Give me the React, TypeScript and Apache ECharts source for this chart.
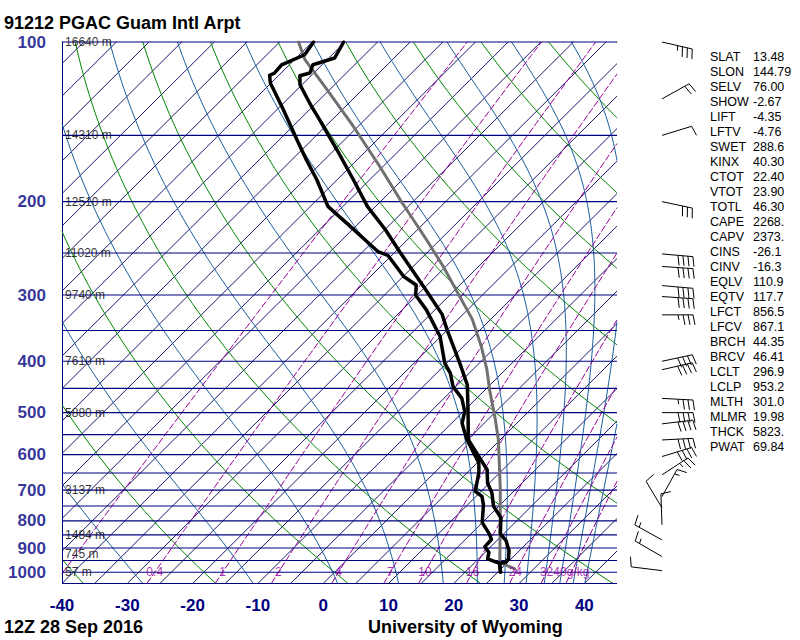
import React, { useEffect, useRef } from 'react';
import * as echarts from 'echarts';

// ---------------- DATA ----------------
const TEMP_P = [100, 107.2, 110.4, 114.4, 115.8, 120.4, 132.3, 140.2, 159.5, 181.9, 204.4, 226.0, 249.2, 291.2, 326.3, 348.7, 403.2, 443.1, 495.9, 562.3, 595.6, 640.6, 678.5, 708.5, 750.8, 789.2, 846.3, 871.6, 910.3, 943.6, 957.8, 962.0, 999.0];
const TEMP_T = [-80.2, -79.1, -81.4, -80.6, -81.7, -80.3, -75.2, -71.9, -64.7, -57.5, -51.2, -44.9, -39.2, -29.9, -23.2, -20.1, -13.0, -8.5, -4.4, 0.1, 3.4, 7.6, 9.7, 11.9, 14.2, 17.1, 19.5, 21.4, 23.4, 24.6, 24.7, 23.9, 25.4];
const DEW_P = [100, 105.7, 110.4, 114.4, 115.6, 119.5, 134.2, 152.9, 166.7, 181.9, 204.2, 208.6, 222.7, 241.2, 248.4, 252.5, 276.9, 287.2, 300.2, 320.0, 359.3, 403.2, 421.2, 446.6, 469.5, 497.4, 523.3, 535.0, 562.3, 622.3, 649.1, 703.6, 719.1, 745.3, 806.2, 846.3, 867.4, 894.6, 917.4, 943.6, 962.0, 999.0];
const DEW_T = [-84.8, -84.2, -86.2, -86.0, -86.4, -85.1, -79.0, -72.3, -67.8, -63.1, -57.3, -55.7, -50.8, -44.9, -42.7, -40.6, -34.9, -31.7, -30.2, -26.3, -20.1, -15.3, -12.9, -10.4, -7.3, -4.8, -3.4, -2.4, -0.1, 5.3, 6.8, 9.1, 10.9, 12.4, 15.0, 17.8, 19.0, 19.1, 20.6, 21.4, 23.9, 25.4];
const PARCEL_P = [100, 108.0, 123.0, 144.3, 171.7, 201.0, 236.3, 265.0, 297.9, 333.5, 375.6, 415.2, 453.0, 516.0, 562.3, 698.8, 957.8, 985.8];
const PARCEL_T = [-87.1, -83.4, -75.4, -65.7, -55.5, -46.5, -37.0, -30.4, -24.0, -17.8, -12.2, -7.8, -4.3, 1.2, 4.7, 12.7, 23.8, 27.1];

const PRESSURE_TICKS = [100, 200, 300, 400, 500, 600, 700, 800, 900, 1000];
const HEIGHT_P = [100, 150, 200, 250, 300, 400, 500, 700, 850, 925, 1000];
const HEIGHT_LABELS = ['16640 m', '14310 m', '12510 m', '11020 m', '9740 m', '7610 m', '5880 m', '3137 m', '1484 m', '745 m', '57 m'];
const MIX_RATIOS = [0.1, 0.4, 1, 2, 4, 7, 10, 16, 24, 32, 40];
const MIX_LABEL_VALUES = [0.4, 1, 2, 4, 7, 10, 16, 24, 32, 40];
const MIX_LABEL_TEXT = ['0.4', '1', '2', '4', '7', '10', '16', '24', '32', '40g/kg'];

const STAT_NAMES = ['SLAT', 'SLON', 'SELV', 'SHOW', 'LIFT', 'LFTV', 'SWET', 'KINX', 'CTOT', 'VTOT', 'TOTL', 'CAPE', 'CAPV', 'CINS', 'CINV', 'EQLV', 'EQTV', 'LFCT', 'LFCV', 'BRCH', 'BRCV', 'LCLT', 'LCLP', 'MLTH', 'MLMR', 'THCK', 'PWAT'];
const STAT_VALUES = ['13.48', '144.79', '76.00', '-2.67', '-4.35', '-4.76', '288.6', '40.30', '22.40', '23.90', '46.30', '2268.', '2373.', '-26.1', '-16.3', '110.9', '117.7', '856.5', '867.1', '44.35', '46.41', '296.9', '953.2', '301.0', '19.98', '5823.', '69.84'];

const WIND_P = [100, 128, 150, 200, 251, 265, 288, 302, 327, 400, 415, 470, 500, 525, 563, 605, 655, 720, 756, 814, 869, 934, 993];
const WIND_DIR = [103, 61, 73, 102, 95, 94, 95, 94, 90, 78, 77, 93, 90, 83, 87, 73, 57, 29, 329, 358, 299, 300, 277];
const WIND_KT = [35, 20, 10, 30, 40, 40, 40, 40, 35, 40, 40, 35, 40, 40, 40, 40, 25, 15, 10, 10, 15, 15, 10];

const TITLE = '91212 PGAC Guam Intl Arpt';
const FOOT_LEFT = '12Z 28 Sep 2016';
const FOOT_RIGHT = 'University of Wyoming';

// ---------------- diagram geometry / reference lines ----------------
const K = 81.6;
const PBOT = 1050;
const PTOP = 100;
const XMIN = -40;
const XMAX = 45;
const ISOBARS = [100, 150, 200, 250, 300, 350, 400, 450, 500, 550, 600, 650, 700, 750, 800, 850, 900, 950, 1000, 1050];
const ISOTHERMS: number[] = [];
for (let t = -125; t <= 45; t += 5) ISOTHERMS.push(t);
const DRY_THETA: number[] = [];
for (let t = -40; t <= 180; t += 20) DRY_THETA.push(t);
const MOIST_THETAE: number[] = [];
for (let t = -30; t <= 190; t += 20) MOIST_THETAE.push(t);

const skew = (p: number) => K * Math.log10(PBOT / p);
const toX = (T: number, p: number) => T + skew(p);
const logPs = (n: number) => Array.from({ length: n + 1 }, (_, i) => PBOT * Math.pow(PTOP / PBOT, i / n));
const es = (tc: number) => 6.112 * Math.exp((17.67 * tc) / (tc + 243.5));
const tFromE = (e: number) => { const l = Math.log(e / 6.112); return (243.5 * l) / (17.67 - l); };
const mixT = (w: number, p: number) => tFromE((w * p) / (622 + w));
function thetaE(tc: number, p: number) {
  const e = es(tc);
  if (e > 0.5 * p) return 1e9;
  const r = (622 * e) / (p - e);
  const tk = tc + 273.15;
  return tk * Math.pow(1000 / p, 0.2854 * (1 - 0.00028 * r)) * Math.exp((3.376 / tk - 0.00254) * r * (1 + 0.00081 * r));
}
function moistT(te: number, p: number) {
  let lo = -160, hi = 60;
  for (let i = 0; i < 50; i++) {
    const mid = (lo + hi) / 2;
    if (thetaE(mid, p) > te) hi = mid; else lo = mid;
  }
  return (lo + hi) / 2;
}
function clipX(pts: number[][]): number[][][] {
  const out: number[][][] = [];
  let cur: number[][] | null = null;
  const lerp = (a: number[], b: number[], t: number) => [a[0] + (b[0] - a[0]) * t, Math.exp(Math.log(a[1]) + (Math.log(b[1]) - Math.log(a[1])) * t)];
  for (let i = 1; i < pts.length; i++) {
    const a = pts[i - 1], b = pts[i];
    let t0 = 0, t1 = 1;
    const dx = b[0] - a[0];
    if (Math.abs(dx) < 1e-12) {
      if (a[0] < XMIN || a[0] > XMAX) { t0 = 1; t1 = 0; }
    } else {
      let ta = (XMIN - a[0]) / dx, tb = (XMAX - a[0]) / dx;
      if (ta > tb) { const s = ta; ta = tb; tb = s; }
      t0 = Math.max(0, ta); t1 = Math.min(1, tb);
    }
    if (t0 > t1) { if (cur) { out.push(cur); cur = null; } continue; }
    const s = lerp(a, b, t0), e = lerp(a, b, t1);
    if (!cur || t0 > 0) { if (cur) out.push(cur); cur = [s]; }
    cur.push(e);
    if (t1 < 1) { out.push(cur); cur = null; }
  }
  if (cur) out.push(cur);
  return out.filter((l) => l.length > 1);
}

const isobarLines = ISOBARS.map((p) => [[XMIN, p], [XMAX, p]]);
const isothermLines = ISOTHERMS.flatMap((T) => clipX([[toX(T, PBOT), PBOT], [toX(T, PTOP), PTOP]]));
const dryLines = DRY_THETA.flatMap((th) => clipX(logPs(60).map((p) => [toX((th + 273.15) * Math.pow(p / 1000, 0.2857) - 273.15, p), p])));
const moistLines = MOIST_THETAE.flatMap((te) => clipX(logPs(80).map((p) => [toX(moistT(te + 273.15, p), p), p])));
const mixLines = MIX_RATIOS.flatMap((w) => clipX(logPs(40).map((p) => [toX(mixT(w, p), p), p])));

function bgSeries(lines: number[][][], color: string, width: number, z: number, dash?: number[]) {
  return {
    type: 'custom',
    coordinateSystem: 'cartesian2d',
    silent: true,
    z,
    data: lines.map((l, i) => [l[0][0], l[0][1], i]),
    encode: { x: 0, y: 1 },
    renderItem: (params: any, api: any) => {
      const pts = lines[params.dataIndex].map((q) => api.coord(q));
      return {
        type: 'polyline',
        silent: true,
        shape: { points: pts },
        style: { fill: 'none', stroke: color, lineWidth: width, lineDash: dash || null },
      };
    },
  };
}

const FONT = "'Liberation Sans', Arial, Helvetica, sans-serif";
const NAVY = '#000080';

function buildOption() {
  const profile = (P: number[], T: number[], color: string, width: number, z: number) => ({
    type: 'line',
    data: P.map((p, i) => [toX(T[i], p), p]),
    symbol: 'none',
    silent: true,
    z,
    lineStyle: { color, width, join: 'round', cap: 'round' },
  });

  const txt = (text: string, x: number, y: number, font: string) => ({
    type: 'text', x, y,
    style: { text, font, fill: '#000', textVerticalAlign: 'middle', verticalAlign: 'middle' },
  });
  const graphic: any[] = [
    txt(TITLE, 4, 23, `bold 18px ${FONT}`),
    txt(FOOT_LEFT, 4, 627, `bold 18px ${FONT}`),
    txt(FOOT_RIGHT, 368, 627, `bold 18px ${FONT}`),
  ];
  STAT_NAMES.forEach((n, i) => {
    const y = 56.7 + 15 * i;
    graphic.push(txt(n, 710, y, `12.5px ${FONT}`));
    graphic.push(txt(STAT_VALUES[i], 753, y, `12.5px ${FONT}`));
  });

  const barbSeries = {
    type: 'custom',
    coordinateSystem: 'cartesian2d',
    silent: true,
    clip: false,
    z: 20,
    data: WIND_P.map((p, i) => [0, p, WIND_DIR[i], WIND_KT[i]]),
    encode: { x: 0, y: 1 },
    renderItem: (params: any, api: any) => {
      const p = api.value(1);
      const dir = (api.value(2) * Math.PI) / 180;
      let spd = Math.round(api.value(3) / 5) * 5;
      const y = api.coord([0, p])[1];
      const x = params.coordSys.x + params.coordSys.width + 45;
      const ux = Math.sin(dir), uy = -Math.cos(dir);
      const L = 31;
      const tx = x + ux * L, ty = y + uy * L;
      const bx = -uy, by = ux;
      const st = { stroke: '#000', lineWidth: 1, fill: 'none' };
      const children: any[] = [{ type: 'line', shape: { x1: x, y1: y, x2: tx, y2: ty }, style: st }];
      let pos = 0;
      while (spd >= 50) {
        const ax = tx - ux * pos, ay = ty - uy * pos;
        children.push({ type: 'polygon', shape: { points: [[ax, ay], [ax + bx * 10, ay + by * 10], [ax - ux * 6, ay - uy * 6]] }, style: { fill: '#000', stroke: '#000' } });
        pos += 8; spd -= 50;
      }
      while (spd >= 10) {
        const ax = tx - ux * pos, ay = ty - uy * pos;
        children.push({ type: 'line', shape: { x1: ax, y1: ay, x2: ax + bx * 10 + ux * 2, y2: ay + by * 10 + uy * 2 }, style: st });
        pos += 5; spd -= 10;
      }
      if (spd >= 5) {
        if (pos === 0) pos = 5;
        const ax = tx - ux * pos, ay = ty - uy * pos;
        children.push({ type: 'line', shape: { x1: ax, y1: ay, x2: ax + bx * 5 + ux, y2: ay + by * 5 + uy }, style: st });
      }
      return { type: 'group', children };
    },
  };

  return {
    animation: false,
    backgroundColor: '#fff',
    grid: { left: 62, top: 42, width: 555, height: 541.5, containLabel: false },
    xAxis: {
      type: 'value',
      min: XMIN,
      max: XMAX,
      interval: 10,
      axisLine: { show: false },
      axisTick: { show: false },
      splitLine: { show: false },
      axisLabel: { showMaxLabel: false, margin: 13, color: NAVY, fontWeight: 'bold', fontSize: 17, fontFamily: FONT },
    },
    yAxis: {
      type: 'log',
      logBase: 10,
      min: PTOP,
      max: PBOT,
      inverse: true,
      axisLine: { show: true, onZero: false, lineStyle: { color: NAVY, width: 1 } },
      axisTick: { show: false },
      splitLine: { show: false },
      axisLabel: { show: false },
    },
    graphic,
    series: [
      bgSeries(isothermLines, '#00005a', 0.9, 1),
      bgSeries(dryLines, '#008800', 1, 2),
      bgSeries(moistLines, '#1a5fa0', 1, 2),
      bgSeries(mixLines, '#990099', 1, 3, [7, 2]),
      bgSeries(isobarLines, NAVY, 1.1, 4),
      profile(PARCEL_P, PARCEL_T, '#707070', 3, 8),
      profile(DEW_P, DEW_T, '#000', 3.5, 9),
      profile(TEMP_P, TEMP_T, '#000', 3.5, 10),
      {
        type: 'scatter',
        silent: true,
        clip: false,
        z: 12,
        symbolSize: 0.1,
        itemStyle: { color: 'transparent' },
        data: PRESSURE_TICKS.map((p) => [XMIN, p]),
        label: { show: true, position: 'left', distance: 16, color: NAVY, fontWeight: 'bold', fontSize: 17, fontFamily: FONT, formatter: (d: any) => String(d.value[1]) },
      },
      {
        type: 'scatter',
        silent: true,
        clip: false,
        z: 12,
        symbolSize: 0.1,
        itemStyle: { color: 'transparent' },
        data: HEIGHT_P.map((p) => [XMIN, p]),
        label: { show: true, position: 'right', distance: 3, color: '#000', fontSize: 12, fontFamily: FONT, formatter: (d: any) => HEIGHT_LABELS[d.dataIndex] },
      },
      {
        type: 'scatter',
        silent: true,
        clip: false,
        z: 12,
        symbolSize: 0.1,
        itemStyle: { color: 'transparent' },
        data: MIX_LABEL_VALUES.map((w) => [toX(mixT(w, 1000), 1000), 1000]),
        label: { show: true, position: 'inside', color: '#990099', fontSize: 12, fontFamily: FONT, formatter: (d: any) => MIX_LABEL_TEXT[d.dataIndex] },
      },
      barbSeries,
    ],
  };
}

export default function App() {
  const ref = useRef<HTMLDivElement>(null);
  useEffect(() => {
    if (!ref.current) return;
    const chart = echarts.init(ref.current, null, { renderer: 'svg' });
    chart.setOption(buildOption() as any);
    return () => chart.dispose();
  }, []);
  return <div ref={ref} style={{ position: 'fixed', left: 0, top: 0, width: 800, height: 640, background: '#fff' }} />;
}
